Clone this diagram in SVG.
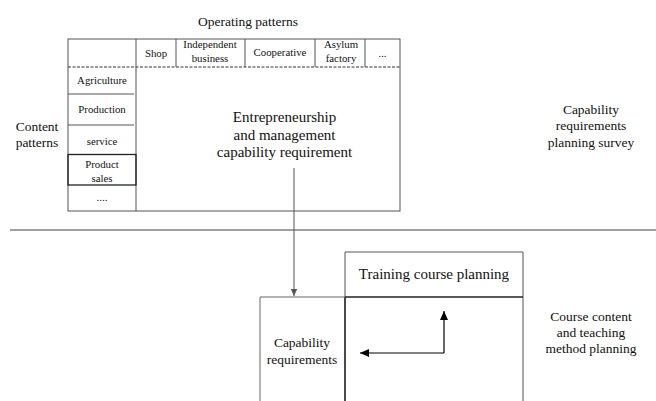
<svg xmlns="http://www.w3.org/2000/svg" width="656" height="401" viewBox="0 0 656 401">
<style>
text{font-family:"Liberation Serif","Times New Roman",serif;fill:#111;text-anchor:middle}
.s{font-size:10.8px}
.m{font-size:13.5px}
.l{font-size:15px}
.g{fill:none;stroke:#555;stroke-width:1}
.d{fill:none;stroke:#222;stroke-width:1.3}
</style>
<defs>
<marker id="ag" markerWidth="8" markerHeight="8" refX="7" refY="4" orient="auto" markerUnits="userSpaceOnUse"><path d="M0,0.8 L7,4 L0,7.2 Z" fill="#555"/></marker>
<marker id="ab" markerWidth="10" markerHeight="10" refX="9" refY="4" orient="auto" markerUnits="userSpaceOnUse"><path d="M0,0 L9,4 L0,8 Z" fill="#000"/></marker>
</defs>
<text class="m" x="248" y="26">Operating patterns</text>
<text class="m" x="37" y="130.5">Content</text>
<text class="m" x="37" y="146.5">patterns</text>
<g id="matrix">
<rect class="g" x="68" y="39" width="332" height="172"/>
<line class="g" x1="136" y1="39" x2="136" y2="211"/>
<line class="g" x1="176" y1="39" x2="176" y2="67"/>
<line class="g" x1="245" y1="39" x2="245" y2="67"/>
<line class="g" x1="315" y1="39" x2="315" y2="67"/>
<line class="g" x1="365" y1="39" x2="365" y2="67"/>
<line x1="68" y1="67" x2="400" y2="67" stroke="#333" stroke-width="1" stroke-dasharray="3,1.5"/>
<line class="g" x1="68" y1="94" x2="134" y2="94"/>
<line class="g" x1="68" y1="125" x2="134" y2="125"/>
<rect class="d" x="68" y="154.5" width="68" height="30.5" stroke-width="1.2"/>
</g>
<g id="header-cells">
<text class="s" x="156" y="57">Shop</text>
<text class="s" x="210" y="47.7">Independent</text>
<text class="s" x="210" y="61.7">business</text>
<text class="s" x="280" y="56">Cooperative</text>
<text class="s" x="341" y="47.7">Asylum</text>
<text class="s" x="341" y="61.7">factory</text>
<text class="s" x="382.5" y="57">...</text>
</g>
<g id="row-cells">
<text class="s" x="102" y="84">Agriculture</text>
<text class="s" x="102" y="113">Production</text>
<text class="s" x="102" y="144.5">service</text>
<text class="s" x="102" y="168">Product</text>
<text class="s" x="102" y="182">sales</text>
<text class="s" x="102" y="201">....</text>
</g>
<g id="main-requirement">
<text class="l" x="284.5" y="122">Entrepreneurship</text>
<text class="l" x="284.5" y="139.5">and management</text>
<text class="l" x="284.5" y="157">capability requirement</text>
</g>
<g id="survey-label">
<text class="m" x="591" y="113.5">Capability</text>
<text class="m" x="591" y="129.5">requirements</text>
<text class="m" x="591" y="146.5">planning survey</text>
</g>
<line x1="10" y1="230" x2="656" y2="230" stroke="#444" stroke-width="1.2"/>
<g id="training-course">
<path d="M345,401 L345,252 L523,252 L523,401" fill="none" stroke="#555" stroke-width="1"/>
<line x1="345" y1="297" x2="523" y2="297" stroke="#222" stroke-width="1.4"/>
<line x1="345" y1="297" x2="345" y2="401" stroke="#222" stroke-width="1.4"/>
<text class="l" x="434" y="279">Training course planning</text>
</g>
<g id="capability-requirements">
<path d="M260,401 L260,297 L345,297" fill="none" stroke="#666" stroke-width="1"/>
<text class="m" x="302" y="346.5">Capability</text>
<text class="m" x="302" y="363.5">requirements</text>
</g>
<g id="method-label">
<text class="m" x="591" y="320.5">Course content</text>
<text class="m" x="591" y="336.5">and teaching</text>
<text class="m" x="591" y="352.5">method planning</text>
</g>
<g id="connectors">
<line x1="294" y1="168" x2="294" y2="296" stroke="#555" stroke-width="1" marker-end="url(#ag)"/>
<path d="M444,353 L360,353" fill="none" stroke="#000" stroke-width="1.2" marker-end="url(#ab)"/>
<path d="M444,353 L444,311" fill="none" stroke="#000" stroke-width="1.2" marker-end="url(#ab)"/>
</g>
</svg>
